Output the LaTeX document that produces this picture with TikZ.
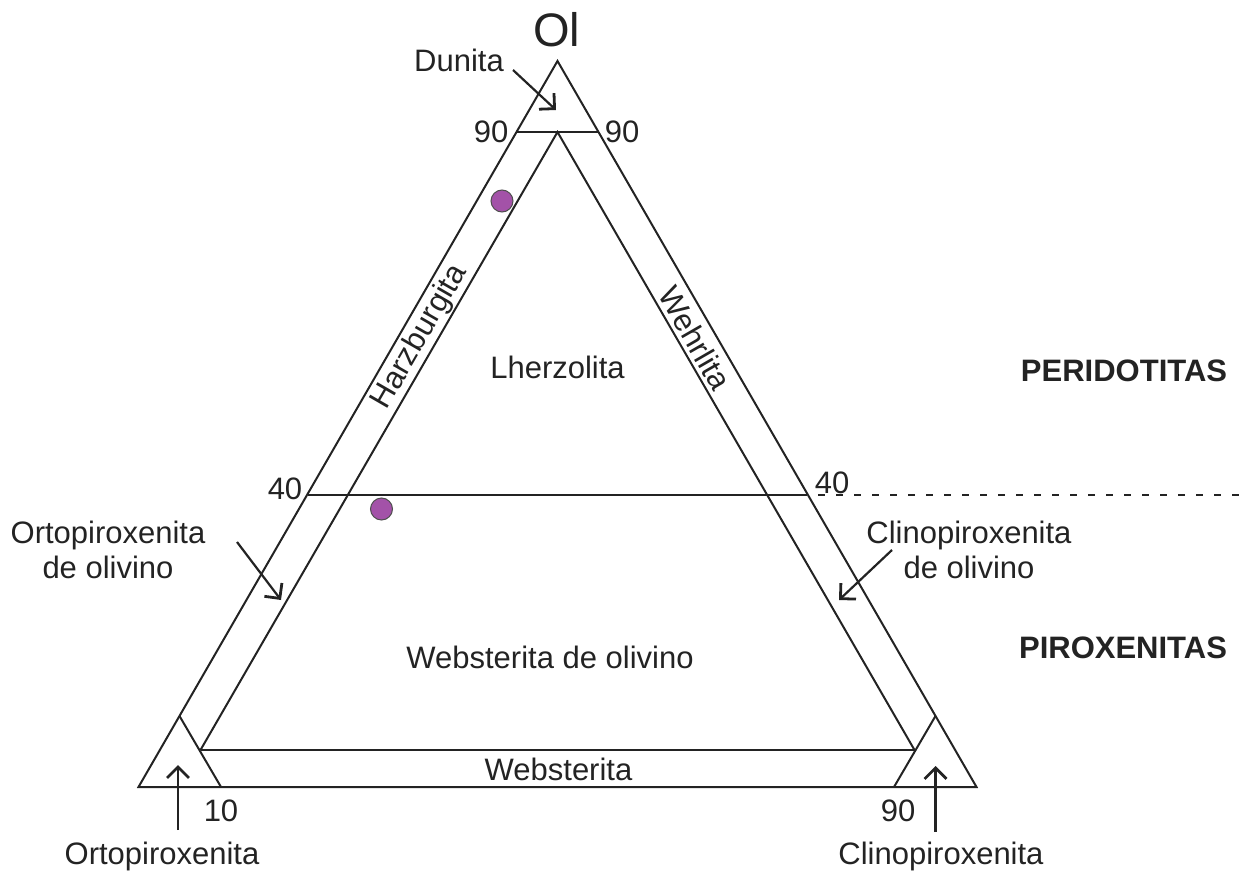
\documentclass[tikz,border=0pt]{standalone}
\usepackage{fontspec}
\setmainfont{Liberation Sans}
\usetikzlibrary{arrows.meta}
\definecolor{dotpurple}{RGB}{163,82,168}
\definecolor{ink}{RGB}{35,35,35}
\begin{document}
\begin{tikzpicture}[x=0.5pt,y=-0.5pt,
  edge/.style={line width=1pt, draw=ink, line join=miter},
  lbl/.style={font=\fontsize{15.5}{17.5}\selectfont, inner sep=0pt, text=ink},
  boldlbl/.style={font=\fontsize{15.5}{17.5}\selectfont\bfseries, inner sep=0pt, text=ink},
  ptr/.style={line width=1.1pt, draw=ink, -{Straight Barb[length=5.5pt,width=11pt,line width=1.4pt]}},
  sample/.style={circle, fill=dotpurple, draw=ink!80, line width=0.5pt, minimum size=11pt, inner sep=0pt},
  dots/.style={line width=1pt, draw=ink, dash pattern=on 3.5pt off 5.5pt}]
\useasboundingbox (0,0) rectangle (1243,872);
% outer triangle
\coordinate (top) at (557.5,61);
\coordinate (bl) at (138.5,787);
\coordinate (br) at (976.5,787);
% inner triangle
\coordinate (itop) at (557.5,132);
\coordinate (ibl) at (200.5,750);
\coordinate (ibr) at (914.5,750);
% 90 line
\coordinate (l90) at (516.5,132);
\coordinate (r90) at (598.5,132);
% 40 line
\coordinate (l40) at (307.6,494.5);
\coordinate (r40) at (807.4,494.5);
\coordinate (d40a) at (818,494.5);
\coordinate (d40b) at (1243,494.5);
% small corner triangles
\coordinate (sl) at (179.5,716);
\coordinate (slb) at (221,787);
\coordinate (sr) at (935.5,716);
\coordinate (srb) at (894,787);

\draw[edge] (top) -- (bl) -- (br) -- cycle;
\draw[edge] (l90) -- (r90);
\draw[edge] (ibl) -- (itop) -- (ibr);
\draw[edge] (ibl) -- (ibr);
\draw[edge] (sl) -- (slb);
\draw[edge] (sr) -- (srb);
\draw[edge] (l40) -- (r40);
\draw[dots] (d40a) -- (d40b);

% samples
\node[sample] (s1) at (502,201) {};
\node[sample] (s2) at (381.5,509) {};

% labels
\node[font=\fontsize{23.5}{26}\selectfont, inner sep=0pt, text=ink, anchor=base] (ol) at (556.5,47) {Ol};
\node[lbl, anchor=base] (dunita) at (459,72) {Dunita};
\node[lbl, anchor=base] (n90l) at (491,143) {90};
\node[lbl, anchor=base] (n90r) at (622,143) {90};
\node[lbl, anchor=base] (n40l) at (285,499) {40};
\node[lbl, anchor=base] (n40r) at (832,493) {40};
\node[lbl, anchor=base] (n10) at (221,821) {10};
\node[lbl, anchor=base] (n90b) at (898,821) {90};
\node[lbl, rotate=60] (harz) at (420,337) {Harzburgita};
\node[lbl, rotate=-60] (wehr) at (695,338) {Wehrlita};
\node[lbl, anchor=base] (lherz) at (557.5,378) {Lherzolita};
\node[lbl, anchor=base] (webol) at (550,668) {Websterita de olivino};
\node[lbl, anchor=base] (webs) at (558.5,780) {Websterita};
\node[boldlbl, anchor=base] (perid) at (1124,381) {PERIDOTITAS};
\node[boldlbl, anchor=base] (pirox) at (1123,658) {PIROXENITAS};
\node[lbl, align=center] (ortol) at (108,550) {Ortopiroxenita\\de olivino};
\node[lbl, align=center] (clinol) at (969,550) {Clinopiroxenita\\de olivino};
\node[lbl, anchor=base] (orto) at (162,864) {Ortopiroxenita};
\node[lbl, anchor=base] (clino) at (941,864) {Clinopiroxenita};

% arrows
\coordinate (dA) at (513,70);
\coordinate (dB) at (556,110);
\coordinate (oA) at (237,542);
\coordinate (oB) at (281,600);
\coordinate (cA) at (892,550);
\coordinate (cB) at (839,600);
\coordinate (opA) at (178,830);
\coordinate (opB) at (178,765);
\coordinate (cpA) at (935.5,832);
\coordinate (cpB) at (935.5,766);
\draw[ptr] (dA) -- (dB);
\draw[ptr] (oA) -- (oB);
\draw[ptr] (cA) -- (cB);
\draw[ptr] (opA) -- (opB);
\draw[ptr] (cpA) -- (cpB);
\end{tikzpicture}
\end{document}
